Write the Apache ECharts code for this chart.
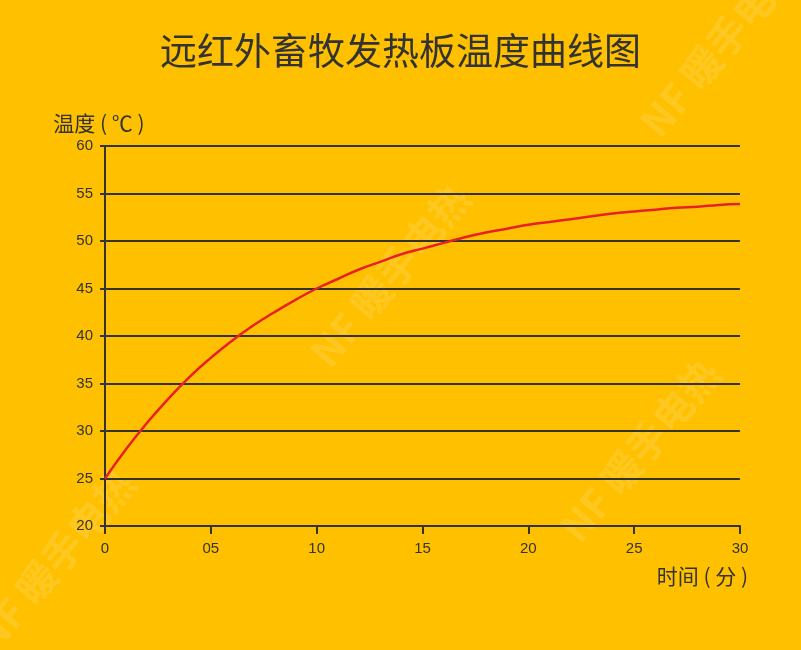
<!DOCTYPE html>
<html>
<head>
<meta charset="utf-8">
<script src="https://cdn.jsdelivr.net/npm/echarts@6/dist/echarts.min.js"></script>
<style>html,body{margin:0;padding:0;background:#FFC000;}#c{width:801px;height:650px;}</style>
</head>
<body>
<div id="c"></div>
<script>
var titleText = '远红外畜牧发热板温度曲线图';
var yName = '温度 ( ℃ )';
var xName = '时间 ( 分 )';
var xTickLabels = ['0', '05', '10', '15', '20', '25', '30'];
var minutes = [0,1,2,3,4,5,6,7,8,9,10,11,12,13,14,15,16,17,18,19,20,21,22,23,24,25,26,27,28,29,30];
var temps = [25.0,28.1,30.9,33.4,35.7,37.7,39.5,41.1,42.5,43.8,45.0,46.0,47.0,47.8,48.6,49.2,49.8,50.4,50.9,51.3,51.7,52.0,52.3,52.6,52.9,53.1,53.3,53.5,53.6,53.8,53.9];

var FONT = '"Noto Sans CJK SC", "Noto Sans", sans-serif';
var NUMFONT = '"Liberation Sans", Arial, sans-serif';
var chart = echarts.init(document.getElementById('c'), null, {renderer: 'canvas'});
var wm = [
  {x: 720, y: 45}, {x: 390, y: 275}, {x: 640, y: 450}, {x: 55, y: 560}
];
chart.setOption({
  backgroundColor: '#FFC000',
  animation: false,
  title: {
    text: titleText, left: 'center', top: 27,
    textStyle: {fontFamily: FONT, fontSize: 37, fontWeight: 'normal', color: '#333333'}
  },
  graphic: wm.map(function (p) {
    return {
      type: 'text', x: p.x, y: p.y, rotation: Math.PI * 50 / 180, silent: true, z: 0,
      style: {text: 'NF 暖手电热', fill: 'rgba(255,255,255,0.13)', font: 'bold 40px ' + FONT, align: 'center', verticalAlign: 'middle'}
    };
  }),
  grid: {left: 105, right: 61, top: 146, bottom: 124},
  xAxis: {
    type: 'value', min: 0, max: 30, interval: 5,
    name: xName, nameLocation: 'end', nameGap: 8,
    nameTextStyle: {fontFamily: FONT, fontSize: 21, color: '#333333', align: 'right', verticalAlign: 'top', padding: [40, 0, 0, 0]},
    axisLine: {show: true, lineStyle: {color: '#333333', width: 2}},
    axisTick: {show: true, length: 8, lineStyle: {color: '#333333', width: 2}},
    splitLine: {show: false},
    axisLabel: {
      margin: 15, fontFamily: NUMFONT, fontSize: 15, color: '#333333',
      formatter: function (v) { return xTickLabels[Math.round(v / 5)]; }
    }
  },
  yAxis: {
    type: 'value', min: 20, max: 60, interval: 5,
    name: yName, nameLocation: 'end', nameGap: 12,
    nameTextStyle: {fontFamily: FONT, fontSize: 21, color: '#333333', align: 'center', padding: [0, 12, 0, 0]},
    axisLine: {show: true, lineStyle: {color: '#333333', width: 2}},
    axisTick: {show: true, length: 5, lineStyle: {color: '#333333', width: 2}},
    splitLine: {show: true, lineStyle: {color: '#333333', width: 2}},
    axisLabel: {margin: 12, fontFamily: NUMFONT, fontSize: 15, color: '#333333', padding: [6, 0, 0, 0]}
  },
  series: [{
    type: 'line', smooth: true, showSymbol: false, z: 5,
    data: minutes.map(function (m, i) { return [m, temps[i]]; }),
    lineStyle: {color: '#E8202A', width: 2.5}
  }]
});
</script>
</body>
</html>
